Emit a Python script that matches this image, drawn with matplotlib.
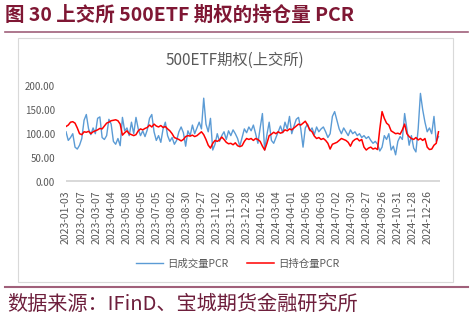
import numpy as np
import matplotlib
matplotlib.use("Agg")
import matplotlib.pyplot as plt
from matplotlib.lines import Line2D
from matplotlib.patches import Rectangle

plt.rcParams['font.family'] = ['Noto Sans CJK SC', 'DejaVu Sans']

# sampled every 3 trading days from 2023-01-03
step = 3
tick_labels = ["2023-01-03", "2023-02-07", "2023-03-07", "2023-04-04", "2023-05-08",
               "2023-06-05", "2023-07-05", "2023-08-02", "2023-08-30", "2023-09-27",
               "2023-11-02", "2023-11-30", "2023-12-28", "2024-01-26", "2024-03-04",
               "2024-04-01", "2024-05-06", "2024-06-03", "2024-07-02", "2024-07-30",
               "2024-08-27", "2024-09-26", "2024-10-31", "2024-11-28", "2024-12-26"]
tick_every = 20

volume_pcr = [104, 86, 92, 100, 72, 68, 76, 90, 128, 140,
              110, 98, 112, 100, 132, 135, 92, 88, 96, 130,
              120, 84, 78, 90, 75, 134, 106, 112, 96, 124,
              100, 134, 110, 96, 106, 94, 108, 132, 140, 104,
              86, 96, 82, 110, 124, 96, 84, 92, 78, 86,
              104, 114, 102, 74, 106, 96, 118, 100, 112, 124,
              110, 174, 120, 104, 132, 66, 78, 100, 84, 96,
              104, 88, 106, 96, 108, 100, 90, 74, 92, 110,
              102, 114, 106, 118, 100, 80, 112, 142, 66, 98,
              124, 86, 80, 92, 104, 116, 102, 124, 110, 136,
              100, 116, 130, 134, 110, 72, 112, 120, 106, 112,
              98, 114, 104, 110, 114, 104, 92, 100, 136, 146,
              128, 110, 100, 112, 104, 96, 108, 100, 104, 96,
              100, 92, 96, 90, 94, 86, 80, 84, 78, 64,
              72, 96, 88, 100, 66, 74, 56, 84, 94, 88,
              142, 110, 76, 96, 70, 62, 110, 184, 150, 124,
              104, 112, 100, 136, 84, 94]

oi_pcr = [115, 118, 124, 125, 122, 112, 100, 98, 104, 103,
          105, 100, 104, 106, 108, 111, 110, 116, 122, 124,
          127, 128, 129, 127, 120, 97, 102, 106, 100, 98,
          96, 98, 106, 110, 108, 111, 113, 118, 114, 120,
          116, 114, 117, 113, 115, 110, 106, 100, 92, 90,
          88, 85, 88, 94, 96, 95, 97, 94, 96, 100,
          104, 98, 88, 76, 70, 80, 86, 84, 87, 93,
          88, 82, 79, 80, 77, 81, 75, 73, 75, 84,
          90, 88, 90, 86, 90, 88, 84, 74, 66, 80,
          96, 99, 103, 100, 104, 101, 103, 108, 106, 110,
          108, 112, 116, 120, 118, 122, 126, 118, 108, 104,
          95, 90, 92, 88, 90, 86, 80, 68, 78, 80,
          82, 86, 90, 88, 86, 82, 74, 84, 88, 90,
          85, 88, 72, 66, 70, 72, 68, 70, 67, 110,
          146, 132, 122, 118, 106, 103, 100, 101, 99, 108,
          120, 100, 94, 90, 88, 92, 87, 90, 86, 90,
          72, 67, 68, 76, 80, 104]

W, H = 473, 320
fig = plt.figure(figsize=(W / 100, H / 100), dpi=100)

def fx(px):
    return px / W

def fy(py):
    return 1 - py / H

# report header / footer
fig.text(fx(5), fy(15), "图 30 上交所 500ETF 期权的持仓量 PCR", fontsize=14,
         fontweight='bold', color='#7F1734', ha='left', va='center')
fig.add_artist(Line2D([fx(5), fx(468)], [fy(32), fy(32)], color='#A0607A', lw=1.2))
fig.add_artist(Line2D([fx(5), fx(468)], [fy(286.5), fy(286.5)], color='#A0607A', lw=1.5))
fig.text(fx(7), fy(304), "数据来源：IFinD、宝城期货金融研究所", fontsize=14.5,
         color='#6E1F3C', ha='left', va='center')

# chart frame
fig.add_artist(Rectangle((fx(17.5), fy(281.7)), fx(452.5) - fx(17.5), fy(38.3) - fy(281.7),
                         fill=False, edgecolor='#D9D9D9', lw=0.8))
fig.text(fx(235), fy(60), "500ETF期权(上交所)", fontsize=11, color='#595959',
         ha='center', va='center')

ax = fig.add_axes([fx(66), fy(181.7), fx(440) - fx(66), fy(85.7) - fy(181.7)])
x = np.arange(len(volume_pcr)) * step
ax.plot(x, volume_pcr, color='#5B9BD5', lw=1.0, label='日成交量PCR')
ax.plot(x, oi_pcr, color='#FF0000', lw=1.1, label='日持仓量PCR')
ax.axhline(0, color='#D9D9D9', lw=3.6, zorder=0)

ax.set_xlim(0, 497)
ax.set_ylim(0, 200)
ax.set_yticks([0, 50, 100, 150, 200])
ax.set_yticklabels([f"{v:.2f}" for v in [0, 50, 100, 150, 200]])
ax.set_xticks(np.arange(len(tick_labels)) * tick_every)
ax.set_xticklabels(tick_labels, rotation=90)
ax.tick_params(axis='both', length=0, labelsize=7, colors='#595959')
ax.tick_params(axis='x', labelsize=7.5, pad=6)
ax.tick_params(axis='y', pad=8)
for s in ax.spines.values():
    s.set_visible(False)
ax.patch.set_alpha(0)

ax.legend(loc='center', bbox_to_anchor=(fx(238), fy(264)), bbox_transform=fig.transFigure,
          ncol=2, frameon=False, fontsize=7.5, handlelength=2.6, columnspacing=1.8,
          handletextpad=0.4, labelcolor='#595959')

fig.savefig("out.png", dpi=100)
